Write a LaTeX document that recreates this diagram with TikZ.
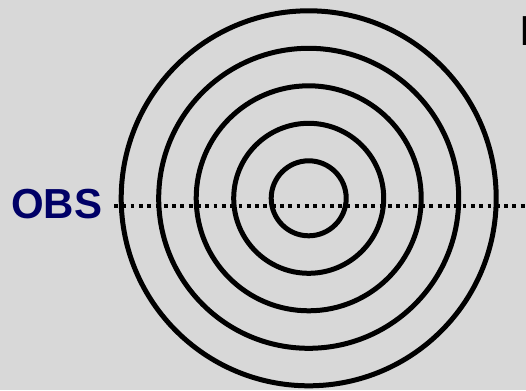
\documentclass[tikz,border=0pt]{standalone}
\usepackage{fontspec}
\setmainfont{Liberation Sans}
\definecolor{bgc}{HTML}{D8D8D8}
\definecolor{obsc}{HTML}{000066}
\tikzset{
  ring/.style={draw=black, line width=5pt},
  sight/.style={draw=black, line width=3.8pt, dash pattern=on 3.8pt off 4.5pt},
  lbl/.style={font=\fontsize{42}{42}\selectfont\bfseries, inner sep=0pt}
}
\begin{document}
\begin{tikzpicture}[x=1pt,y=-1pt]
\fill[bgc] (0,0) rectangle (526,390);
\useasboundingbox (0,0) rectangle (526,390);
\coordinate (c) at (308.7,198.3);
\foreach \r/\n in {37.5/a,75/b,112.5/c2,150/d,187.5/e}{
  \draw[ring] (c) circle[radius=\r];
}
\node[lbl, text=obsc, anchor=base west] (obs) at (11,218) {OBS};
\coordinate (lend) at (114,206);
\coordinate (rend) at (530,206);
\draw[sight] (lend) -- (rend);
\node[lbl, text=black, anchor=base west] (top) at (520,46) {E};
\end{tikzpicture}
\end{document}
